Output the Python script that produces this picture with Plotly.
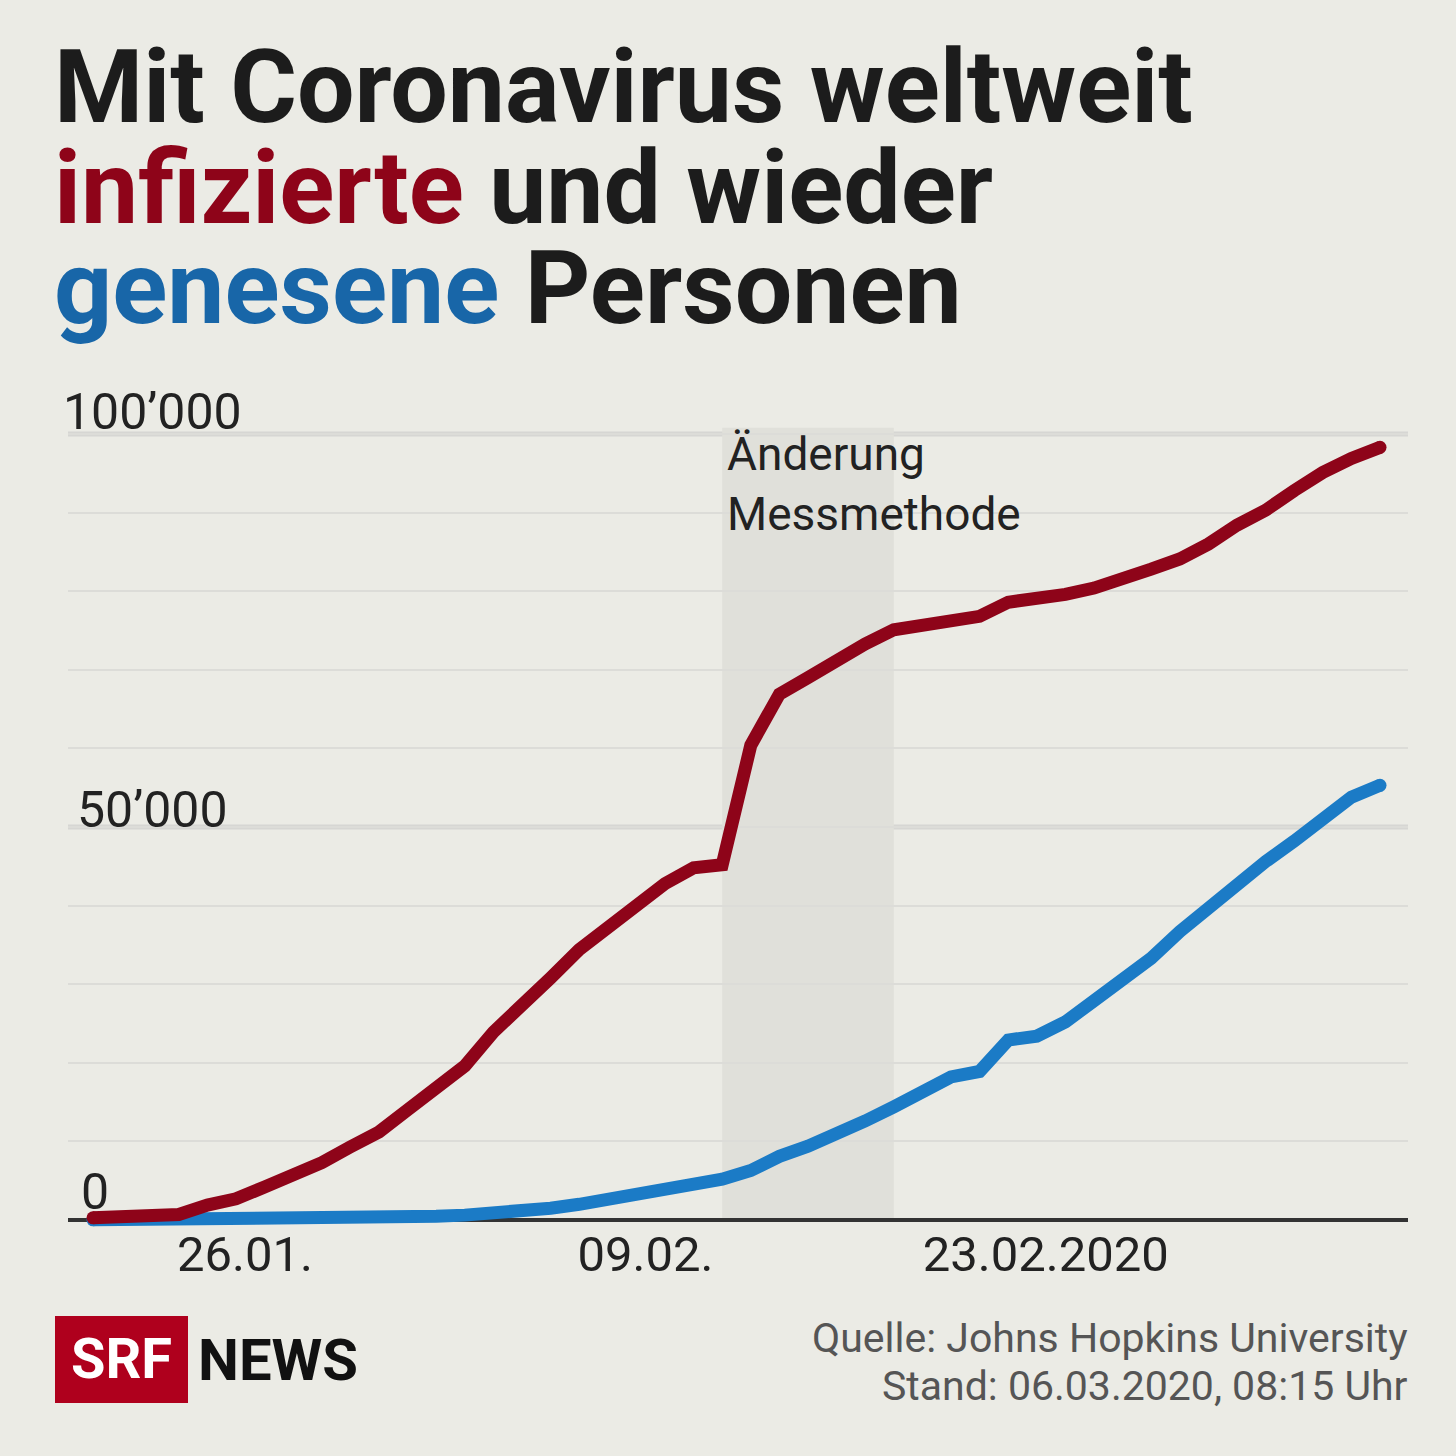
import plotly.graph_objects as go
import pandas as pd

# ---------------- data ----------------
dates = pd.date_range("2020-01-21", "2020-03-06", freq="D")

infected = [280, 450, 560, 700, 1900, 2700, 4200, 5700, 7300, 9300,
            11200, 14000, 16900, 19600, 23900, 27600, 30800, 34400, 37100, 40100,
            42800, 44800, 45200, 60400, 66900, 69000, 71200, 73300, 75100, 75600,
            76200, 76800, 78600, 79000, 79600, 80400, 81400, 82800, 84100, 86000,
            88400, 90300, 92800, 95100, 96900, 98300]

recovered = [20, 30, 30, 40, 40, 50, 60, 110, 130, 140,
             220, 280, 470, 620, 850, 1100, 1500, 2000, 2600, 3200,
             3900, 4700, 5200, 6300, 8100, 9400, 10900, 12600, 14400, 16100,
             18200, 18900, 22900, 23400, 25200, 27900, 30400, 33300, 36700, 39800,
             42700, 45600, 48200, 51200, 53800, 55300]

x_tick_vals = ["2020-01-26", "2020-02-09", "2020-02-23"]
x_tick_text = ["26.01.", "09.02.", "23.02.2020"]

y_grid_vals = [0, 10000, 20000, 30000, 40000, 50000, 60000, 70000, 80000, 90000, 100000]
y_major_vals = [50000, 100000]
y_label_vals = [100000, 50000, 0]
y_label_text = ["100’000", "50’000", "0"]

shade_start, shade_end = "2020-02-12", "2020-02-18"
shade_label = ["Änderung", "Messmethode"]

# ---------------- style ----------------
BG = "#ebebe5"
RED = "#8e0419"
BLUE = "#1b7bc6"
TITLE_BLUE = "#1866a8"
DARK = "#1c1c1c"
GREY_TXT = "#555555"
FONT = "Roboto"

W = H = 1456
ML, MR, MT, MB = 68, 48, 422, 228
PW = W - ML - MR
PH = H - MT - MB
PLOT_BOTTOM = H - MB


def px_x(px):
    return (px - ML) / PW


def px_y(py):
    return (PLOT_BOTTOM - py) / PH


fig = go.Figure()

fig.add_trace(go.Scatter(x=dates, y=recovered, mode="lines",
                         line=dict(color=BLUE, width=13), hoverinfo="skip"))
fig.add_trace(go.Scatter(x=[dates[0], dates[-1]], y=[recovered[0], recovered[-1]],
                         mode="markers", marker=dict(color=BLUE, size=13),
                         hoverinfo="skip"))
fig.add_trace(go.Scatter(x=dates, y=infected, mode="lines",
                         line=dict(color=RED, width=13), hoverinfo="skip"))
fig.add_trace(go.Scatter(x=[dates[0], dates[-1]], y=[infected[0], infected[-1]],
                         mode="markers", marker=dict(color=RED, size=13),
                         hoverinfo="skip"))

# shaded period
fig.add_shape(type="rect", xref="x", yref="y", x0=shade_start, x1=shade_end,
              y0=0, y1=100800, fillcolor="#e0e0da", line_width=0, layer="below")
# heavier grid lines
for v in y_major_vals:
    fig.add_shape(type="line", xref="paper", yref="y", x0=0, x1=1, y0=v, y1=v,
                  line=dict(color="#d6d6d3", width=5), layer="below")

annotations = []
# y labels
y_label_px = {100000: (152.5, 412), 50000: (152.5, 810), 0: (95, 1192)}
for v, t in zip(y_label_vals, y_label_text):
    cx, cy = y_label_px[v]
    annotations.append(dict(text=t, xref="paper", yref="paper", x=px_x(cx), y=px_y(cy),
                            xanchor="center", yanchor="middle", showarrow=False,
                            font=dict(family=FONT, size=50, color="#222222")))
# shade label
for i, t in enumerate(shade_label):
    annotations.append(dict(text=t, xref="paper", yref="paper", x=px_x(725), y=px_y(454 + 60 * i),
                            xanchor="left", yanchor="middle", showarrow=False,
                            font=dict(family=FONT, size=46, color="#222222")))
# title (three lines, tight leading like the original)
TS = 102
title_lines = [
    "<b>Mit Coronavirus weltweit</b>",
    f"<b><span style='color:{RED}'>infizierte</span> und wieder</b>",
    f"<b><span style='color:{TITLE_BLUE}'>genesene</span> Personen</b>",
]
annotations.append(dict(text=title_lines[0], xref="paper", yref="paper", x=px_x(52), y=px_y(87.5),
                        xanchor="left", yanchor="middle", height=98, valign="middle",
                        showarrow=False, font=dict(family=FONT, size=TS, color=DARK)))
annotations.append(dict(text=title_lines[1], xref="paper", yref="paper", x=px_x(52), y=px_y(187.5),
                        xanchor="left", yanchor="middle", height=98, valign="middle",
                        showarrow=False, font=dict(family=FONT, size=TS, color=DARK)))
annotations.append(dict(text=title_lines[2], xref="paper", yref="paper", x=px_x(52), y=px_y(350),
                        xanchor="left", yanchor="bottom", height=104, valign="bottom",
                        showarrow=False, font=dict(family=FONT, size=TS, color=DARK)))
# source
annotations.append(dict(text="Quelle: Johns Hopkins University", xref="paper", yref="paper",
                        x=px_x(1410), y=px_y(1338), xanchor="right", yanchor="middle",
                        showarrow=False, font=dict(family=FONT, size=41, color=GREY_TXT)))
annotations.append(dict(text="Stand: 06.03.2020, 08:15 Uhr", xref="paper", yref="paper",
                        x=px_x(1410), y=px_y(1386), xanchor="right", yanchor="middle",
                        showarrow=False, font=dict(family=FONT, size=41, color=GREY_TXT)))
# logo
fig.add_shape(type="rect", xref="paper", yref="paper", x0=px_x(55), x1=px_x(188),
              y0=px_y(1403), y1=px_y(1316), fillcolor="#af001d", line_width=0, layer="above")
annotations.append(dict(text="<b>SRF</b>", xref="paper", yref="paper", x=px_x(121), y=px_y(1359),
                        xanchor="center", yanchor="middle", showarrow=False,
                        font=dict(family=FONT, size=56, color="white")))
annotations.append(dict(text="<b>NEWS</b>", xref="paper", yref="paper", x=px_x(196), y=px_y(1360),
                        xanchor="left", yanchor="middle", showarrow=False,
                        font=dict(family=FONT, size=58, color="#111111")))

fig.update_layout(
    width=W, height=H,
    margin=dict(l=ML, r=MR, t=MT, b=MB, pad=0),
    paper_bgcolor=BG, plot_bgcolor=BG,
    showlegend=False,
    annotations=annotations,
    xaxis=dict(type="date", range=["2020-01-20 03:01", "2020-03-06 23:30"],
               tickmode="array", tickvals=x_tick_vals, ticktext=x_tick_text,
               ticklabelshift=9, ticklabelstandoff=-7, ticks="", showgrid=False,
               zeroline=False, showline=False,
               tickfont=dict(family=FONT, size=49, color="#222222"),
               fixedrange=True),
    yaxis=dict(range=[-1018, 101527], tickmode="array", tickvals=y_grid_vals,
               showticklabels=False, showgrid=True, gridcolor="#dcdcd8", gridwidth=2,
               zeroline=True, zerolinecolor="#333333", zerolinewidth=4,
               showline=False, ticks="", fixedrange=True),
)

fig.write_html("out.html", config={"displayModeBar": False},
               post_script="document.body.style.margin='0px';")
